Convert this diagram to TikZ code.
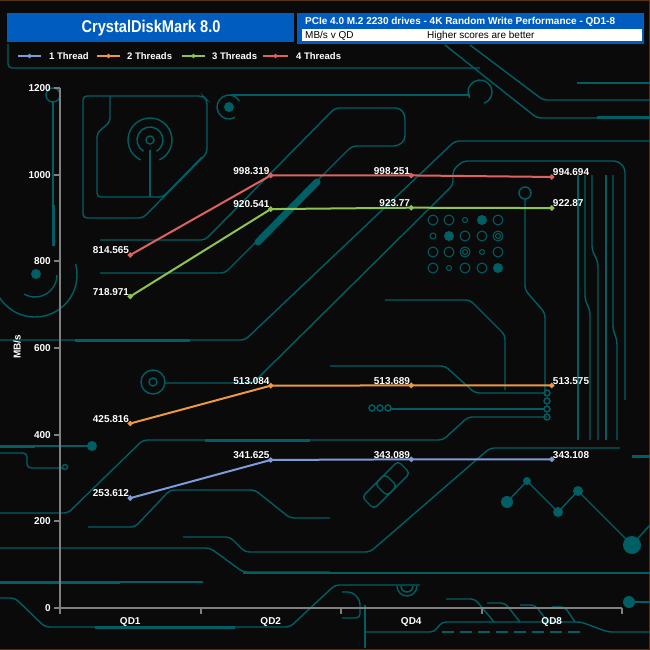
\documentclass[tikz,border=0pt]{standalone}
\usepackage{fontspec}
\setmainfont{Liberation Sans}
\newfontfamily\narrowfont[FakeStretch=0.86]{Liberation Sans}
\usetikzlibrary{shapes.geometric}
\definecolor{fond}{RGB}{10,10,10}
\definecolor{cadre}{RGB}{85,50,20}
\definecolor{pcb}{RGB}{0,95,100}
\definecolor{bandeau}{RGB}{0,92,190}
\definecolor{axis}{RGB}{128,128,128}
\definecolor{c1}{RGB}{125,155,215}
\definecolor{c2}{RGB}{236,152,68}
\definecolor{c3}{RGB}{142,196,82}
\definecolor{c4}{RGB}{222,98,98}
\tikzset{trace/.style={line width=1.4pt, color=pcb, rounded corners=4pt},
         bus/.style={line width=3pt, color=pcb},
         axe/.style={line width=2pt, color=axis},
         serie/.style={line width=2pt},
         mk/.style={diamond, inner sep=0pt, minimum size=6pt},
         val/.style={text=white, inner sep=1pt, font=\bfseries\fontsize{10}{12}\selectfont},
         leg/.style={text=white, inner sep=0pt, anchor=west, font=\bfseries\fontsize{9.5}{11}\selectfont}}

\begin{document}
\begin{tikzpicture}[x=1pt,y=-1pt]
% Black board and frame:
\fill [fill=fond] (0,0) rectangle (650,650);
\useasboundingbox (0,0) rectangle (650,650);
\draw[cadre, line width=1pt] (0,0.5) -- (649.5,0.5) -- (649.5,649.5) -- (0,649.5);

% Circuit traces, top left:
\draw[trace] (8,44) -- (8,68) -- (480,68);
\draw[trace] (53,102) -- (53,205);
\draw[bus] (53,205) -- (53,246);
\draw[trace] (53,95) circle (7);
\draw[trace] (-7,275) arc[start angle=180, end angle=-15, radius=42];
\draw[trace] (35,275) ++(0:22) arc[start angle=0, end angle=120, radius=22];
\fill[pcb] (36,274) circle (5);
\draw[trace] (83,218) -- (83,96) -- (203,96) -- (207,100) -- (207,153) -- (143,218) -- cycle;
\draw[trace] (110,96) -- (110,122) -- (97,133) -- (97,197) -- (163,197) -- (202,157);
\draw[trace] (150,140) circle (4);
\draw[trace] (150,140) ++(120:13) arc[start angle=120, end angle=420, radius=13];
\draw[trace] (150,140) ++(115:22) arc[start angle=115, end angle=425, radius=22];
\draw[trace] (150,150) -- (150,197);
\fill[pcb] (229,107) circle (5);
\draw[trace] (229,107) ++(60:12) arc[start angle=60, end angle=330, radius=12];
\draw[pcb, line width=7pt, line cap=round] (258,242) -- (317,182); % Thick pad
\draw[trace] (100,240) -- (205,240) -- (335,108) -- (400,108) -- (405,115) -- (405,140) -- (398,146)
             -- (352,146) -- (225,273) -- (100,273);
\draw[trace] (0,340) -- (245,340) -- (455,141) -- (650,141);
\draw[bus] (75,340) -- (190,340);
\draw[trace] (165,383) -- (253,383) -- (453,185) -- (453,170) -- (463,161) -- (618,161) -- (625,168) -- (625,400);
\draw[trace] (153,382) circle (12);
\draw[trace] (153,382) circle (4);

% Circuit traces, top right:
\draw[trace] (230,95) -- (470,95);
\draw[trace] (480,92) ++(150:12) arc[start angle=150, end angle=430, radius=12];
\draw[trace] (470,45) -- (543,100) -- (650,100);
\draw[trace] (445,45) -- (537,118) -- (650,118);
\draw[bus] (597,118) -- (650,118);
\draw[trace] (577,83) -- (650,83);
\draw[trace, line width=1pt] (433,220) circle (5) (449,220) circle (5) (465,220) circle (2.5) (498,220) circle (5)
      (433,236) circle (3) (465,236) circle (5) (482,236) circle (5) (498,236) circle (5) (498,236) circle (2.5)
      (433,252) circle (5) (449,252) circle (5) (465,252) circle (5) (465,252) circle (2.5) (482,252) circle (2.5) (498,252) circle (5)
      (433,268) circle (5) (449,268) circle (2.5) (465,268) circle (5) (482,268) circle (5);
\fill[pcb] (482,220) circle (5) (449,236) circle (5) (498,268) circle (5);
\draw[trace] (525,193) circle (6);
\draw[trace] (525,199) -- (525,290) -- (545,313) -- (545,395);
\draw[trace] (385,300) -- (470,300) -- (505,335) -- (505,390);
\draw[trace] (578,175) -- (578,440);
\draw[trace] (585,175) -- (585,300) -- (590,310) -- (590,440);
\draw[trace] (592,175) -- (592,250) -- (598,262) -- (598,440);
\draw[trace] (606,175) -- (606,440);
\draw[trace] (613,175) -- (613,330) -- (617,340) -- (617,440);

% Circuit traces, middle and bottom:
\draw[trace] (0,446) -- (90,446);
\draw[bus] (0,446) -- (35,446);
\fill[pcb] (92,446) circle (5);
\draw[trace] (0,453) -- (27,453) -- (27,468) -- (62,468);
\draw[trace] (65,467) circle (2.5);
\draw[trace] (0,513) -- (68,513) -- (143,440) -- (443,440) -- (468,417) -- (547,417);
\draw[bus] (205,440) -- (310,440);
\draw[trace] (330,366) -- (445,366) -- (475,393) -- (544,393);
\draw[trace] (390,409) -- (544,409);
\draw[trace] (547,393) circle (3) (547,401) circle (3) (547,409) circle (3) (547,417) circle (3);
\draw[trace] (372,408) circle (3) (380,408) circle (3) (388,408) circle (3);
\draw[trace] (88,527) -- (135,527) -- (170,490) -- (255,490) -- (290,518) -- (330,518);
\draw[trace] (183,537) -- (230,537) -- (245,552) -- (370,552) -- (490,448) -- (620,448);
\draw[bus] (632,456) -- (650,456);
\draw[trace] (362,497) -- (385,474) -- (397,486) -- (374,509) -- cycle;
\draw[trace] (375,484) -- (398,461) -- (410,473) -- (387,496) -- cycle;
\draw[trace] (507,502) -- (527,481) -- (558,512) -- (578,491) -- (632,545) -- (650,525);
\fill[pcb] (507,502) circle (6) (527,481) circle (4) (558,512) circle (5) (578,491) circle (5) (632,545) circle (9);
\draw[trace] (0,548) -- (210,548) -- (243,572) -- (330,572);
\draw[line width=2.5pt, pcb] (243,573) -- (650,573);
\draw[trace] (0,582) -- (203,582);
\draw[bus] (0,582) -- (120,582);
\draw[trace] (0,598) -- (15,598) -- (45,627) -- (290,627) -- (335,585) -- (420,585);
\draw[bus] (95,627) -- (235,627);
\draw[trace] (397,586) arc[start angle=180, end angle=0, radius=10];
\draw[trace] (401,586) arc[start angle=180, end angle=0, radius=6];
\draw[trace] (342,592) -- (352,592) -- (360,600) -- (360,618) -- (342,618);
\draw[trace] (365,605) -- (365,648);
\draw[trace] (365,632) -- (434,632) -- (442,622) -- (581,622) -- (608,632) -- (650,632);
\draw[trace, dash pattern=on 12pt off 6pt] (442,632) -- (581,632);
\draw[trace] (446,599) -- (475,599) -- (494,622);
\draw[trace] (487,603) -- (505,603) -- (520,622);
\draw[trace] (520,605) -- (535,605) -- (548,622);
\draw[trace] (552,607) -- (565,607) -- (575,622);
\fill[pcb] (629,602) circle (6);
\draw[trace] (635,602) -- (650,602);

% Title block:
\fill[bandeau] (7,13) rectangle (294,42);
\node[text=white, font=\narrowfont\bfseries\fontsize{17}{20}\selectfont] (titre) at (151,28) {CrystalDiskMark 8.0};
\fill[bandeau] (297,13) rectangle (644,44);
\fill[white] (302,29) rectangle (642,41);
\node[text=white, anchor=west, inner sep=0pt, font=\bfseries\fontsize{10}{12}\selectfont] (soustitre) at (305,21.5) {PCIe 4.0 M.2 2230 drives - 4K Random Write Performance - QD1-8};
\node[text=black, anchor=west, inner sep=0pt, font=\fontsize{10}{12}\selectfont] (unite) at (305,35.5) {MB/s v QD};
\node[text=black, anchor=west, inner sep=0pt, font=\fontsize{10}{12}\selectfont] (remarque) at (427,35.5) {Higher scores are better};

% Legend:
\coordinate (lg1a) at (18,56); \coordinate (lg1b) at (41,56);
\coordinate (lg2a) at (97,56); \coordinate (lg2b) at (120,56);
\coordinate (lg3a) at (182,56); \coordinate (lg3b) at (205,56);
\coordinate (lg4a) at (263,56); \coordinate (lg4b) at (288,56);
\draw[serie, c1] (lg1a) -- (lg1b); \node[mk, fill=c1, minimum size=5pt] (lgm1) at (29.5,56) {};
\draw[serie, c2] (lg2a) -- (lg2b); \node[mk, fill=c2, minimum size=5pt] (lgm2) at (108.5,56) {};
\draw[serie, c3] (lg3a) -- (lg3b); \node[mk, fill=c3, minimum size=5pt] (lgm3) at (193.5,56) {};
\draw[serie, c4] (lg4a) -- (lg4b); \node[mk, fill=c4, minimum size=5pt] (lgm4) at (275.5,56) {};
\node[leg] (lgt1) at (49,56) {1 Thread};
\node[leg] (lgt2) at (127,56) {2 Threads};
\node[leg] (lgt3) at (212,56) {3 Threads};
\node[leg] (lgt4) at (296,56) {4 Threads};

% Axes:
\coordinate (haut) at (60,88);
\coordinate (origine) at (60,608);
\coordinate (droite) at (622,608);
\draw[axe] (haut) -- (origine) -- (droite);
\draw[axe] (54,88) -- (60,88);   \node[val, anchor=east] (y1200) at (52,88) {1200};
\draw[axe] (54,174.7) -- (60,174.7); \node[val, anchor=east] (y1000) at (52,174.7) {1000};
\draw[axe] (54,261.3) -- (60,261.3); \node[val, anchor=east] (y800) at (52,261.3) {800};
\draw[axe] (54,348) -- (60,348); \node[val, anchor=east] (y600) at (52,348) {600};
\draw[axe] (54,434.7) -- (60,434.7); \node[val, anchor=east] (y400) at (52,434.7) {400};
\draw[axe] (54,521.3) -- (60,521.3); \node[val, anchor=east] (y200) at (52,521.3) {200};
\draw[axe] (54,608) -- (60,608); \node[val, anchor=east] (y0) at (52,608) {0};
\node[val, rotate=90] (unitey) at (17,347) {MB/s};
\draw[axe] (60,608) -- (60,614);
\draw[axe] (200.5,608) -- (200.5,614);
\draw[axe] (341,608) -- (341,614);
\draw[axe] (481.5,608) -- (481.5,614);
\draw[axe] (622,608) -- (622,614);
\node[val] (qd1) at (130.25,622) {QD1};
\node[val] (qd2) at (270.75,622) {QD2};
\node[val] (qd4) at (411.25,622) {QD4};
\node[val] (qd8) at (551.75,622) {QD8};

% Data (MB/s up the y axis):
\begin{scope}[shift={(0,608)}, y={(0pt,0.433333pt)}]
\coordinate (b1) at (130.25,253.612); \coordinate (b2) at (270.75,341.625);
\coordinate (b3) at (411.25,343.089); \coordinate (b4) at (551.75,343.108);
\coordinate (o1) at (130.25,425.816); \coordinate (o2) at (270.75,513.084);
\coordinate (o3) at (411.25,513.689); \coordinate (o4) at (551.75,513.575);
\coordinate (g1) at (130.25,718.971); \coordinate (g2) at (270.75,920.541);
\coordinate (g3) at (411.25,923.77);  \coordinate (g4) at (551.75,922.87);
\coordinate (r1) at (130.25,814.565); \coordinate (r2) at (270.75,998.319);
\coordinate (r3) at (411.25,998.251); \coordinate (r4) at (551.75,994.694);
\end{scope}
% 1 Thread:
\draw[serie, c1] (b1) -- (b2) -- (b3) -- (b4);
\node[mk, fill=c1] (mb1) at (b1) {}; \node[mk, fill=c1] (mb2) at (b2) {};
\node[mk, fill=c1] (mb3) at (b3) {}; \node[mk, fill=c1] (mb4) at (b4) {};
\node[val, anchor=south east] (vb1) at (b1) {253.612};
\node[val, anchor=south east] (vb2) at (b2) {341.625};
\node[val, anchor=south east] (vb3) at (b3) {343.089};
\node[val, anchor=south west] (vb4) at (b4) {343.108};
% 2 Threads:
\draw[serie, c2] (o1) -- (o2) -- (o3) -- (o4);
\node[mk, fill=c2] (mo1) at (o1) {}; \node[mk, fill=c2] (mo2) at (o2) {};
\node[mk, fill=c2] (mo3) at (o3) {}; \node[mk, fill=c2] (mo4) at (o4) {};
\node[val, anchor=south east] (vo1) at (o1) {425.816};
\node[val, anchor=south east] (vo2) at (o2) {513.084};
\node[val, anchor=south east] (vo3) at (o3) {513.689};
\node[val, anchor=south west] (vo4) at (o4) {513.575};
% 3 Threads:
\draw[serie, c3] (g1) -- (g2) -- (g3) -- (g4);
\node[mk, fill=c3] (mg1) at (g1) {}; \node[mk, fill=c3] (mg2) at (g2) {};
\node[mk, fill=c3] (mg3) at (g3) {}; \node[mk, fill=c3] (mg4) at (g4) {};
\node[val, anchor=south east] (vg1) at (g1) {718.971};
\node[val, anchor=south east] (vg2) at (g2) {920.541};
\node[val, anchor=south east] (vg3) at (g3) {923.77};
\node[val, anchor=south west] (vg4) at (g4) {922.87};
% 4 Threads:
\draw[serie, c4] (r1) -- (r2) -- (r3) -- (r4);
\node[mk, fill=c4] (mr1) at (r1) {}; \node[mk, fill=c4] (mr2) at (r2) {};
\node[mk, fill=c4] (mr3) at (r3) {}; \node[mk, fill=c4] (mr4) at (r4) {};
\node[val, anchor=south east] (vr1) at (r1) {814.565};
\node[val, anchor=south east] (vr2) at (r2) {998.319};
\node[val, anchor=south east] (vr3) at (r3) {998.251};
\node[val, anchor=south west] (vr4) at (r4) {994.694};
\end{tikzpicture}
\end{document}
